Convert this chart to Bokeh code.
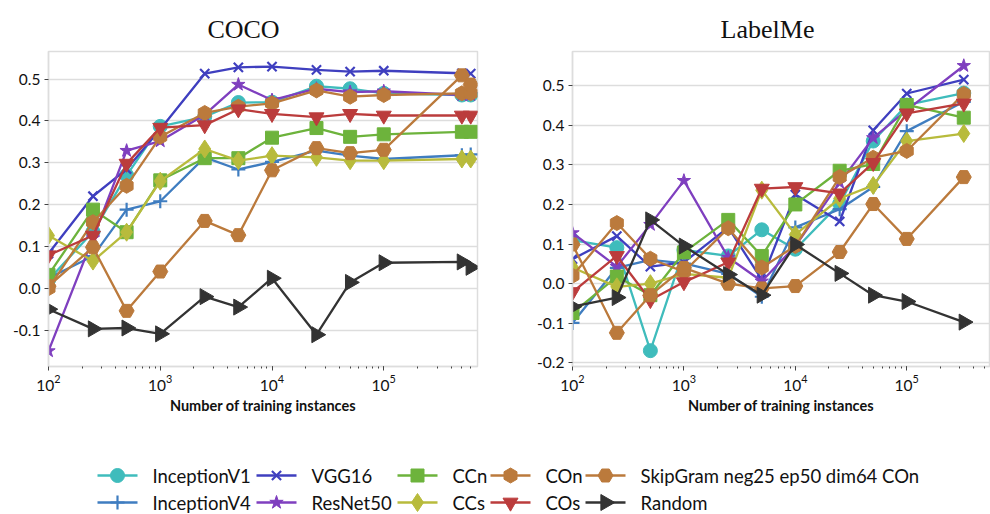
import math
from bokeh.plotting import figure
from bokeh.layouts import column, row
from bokeh.models import (Range1d, FixedTicker, PrintfTickFormatter, ColumnDataSource)
from bokeh.core.properties import value
from bokeh.embed import file_html
from bokeh.resources import INLINE

# ---------------- data ----------------
titles = ["COCO", "LabelMe"]
series_names = ["InceptionV1", "InceptionV4", "VGG16", "ResNet50", "CCn", "CCs",
                "COn", "COs", "SkipGram neg25 ep50 dim64 COn", "Random"]

coco_x = [100, 250, 500, 1000, 2500, 5000, 10000, 25000, 50000, 100000, 500000, 600000]
coco_inceptionv1 = [0.02, 0.135, 0.27, 0.387, 0.41, 0.444, 0.445, 0.483, 0.477, 0.466, 0.462, 0.462]
coco_inceptionv4 = [0.024, 0.077, 0.188, 0.208, 0.313, 0.284, 0.302, 0.329, 0.317, 0.309, 0.318, 0.32]
coco_vgg16 = [0.083, 0.22, 0.285, 0.38, 0.513, 0.528, 0.530, 0.522, 0.518, 0.520, 0.514, 0.513]
coco_resnet50 = [-0.15, 0.12, 0.329, 0.352, 0.415, 0.487, 0.45, 0.477, 0.469, 0.471, 0.462, 0.462]
coco_ccn = [0.032, 0.188, 0.134, 0.258, 0.311, 0.311, 0.36, 0.383, 0.362, 0.368, 0.374, 0.374]
coco_ccs = [0.126, 0.065, 0.134, 0.256, 0.333, 0.305, 0.317, 0.313, 0.305, 0.305, 0.309, 0.309]
coco_con = [0.0, 0.158, 0.245, 0.362, 0.419, 0.434, 0.442, 0.473, 0.458, 0.462, 0.466, 0.466]
coco_cos = [0.079, 0.126, 0.298, 0.384, 0.39, 0.428, 0.417, 0.409, 0.417, 0.413, 0.413, 0.413]
coco_skipgram = [0.005, 0.098, -0.054, 0.04, 0.161, 0.127, 0.282, 0.335, 0.323, 0.331, 0.509, 0.487]
coco_random = [-0.05, -0.097, -0.095, -0.109, -0.02, -0.045, 0.024, -0.111, 0.014, 0.061, 0.063, 0.05]

labelme_x = [100, 250, 500, 1000, 2500, 5000, 10000, 25000, 50000, 100000, 325000]
labelme_inceptionv1 = [0.11, 0.091, -0.169, 0.085, 0.07, 0.136, 0.087, 0.202, 0.36, 0.451, 0.481]
labelme_inceptionv4 = [-0.099, 0.04, 0.06, 0.051, 0.025, -0.033, 0.142, 0.188, 0.244, 0.385, 0.459]
labelme_vgg16 = [0.062, 0.12, 0.043, 0.054, 0.142, 0.01, 0.225, 0.157, 0.387, 0.48, 0.515]
labelme_resnet50 = [0.128, 0.043, 0.149, 0.26, 0.066, 0.006, 0.095, 0.255, 0.368, 0.438, 0.55]
labelme_ccn = [-0.074, 0.018, -0.029, 0.079, 0.161, 0.07, 0.2, 0.285, 0.302, 0.451, 0.419]
labelme_ccs = [0.041, -0.008, 0.0, 0.025, 0.015, 0.236, 0.124, 0.215, 0.248, 0.36, 0.379]
labelme_con = [0.02, 0.153, 0.063, 0.03, 0.14, 0.041, 0.095, 0.269, 0.318, 0.335, 0.479]
labelme_cos = [-0.021, 0.07, -0.041, 0.004, 0.054, 0.24, 0.244, 0.228, 0.305, 0.43, 0.455]
labelme_skipgram = [0.099, -0.124, -0.029, 0.04, 0.0, -0.012, -0.006, 0.08, 0.201, 0.113, 0.269]
labelme_random = [-0.058, -0.035, 0.161, 0.095, 0.023, -0.029, 0.099, 0.026, -0.029, -0.045, -0.097]

coco_y_ticks = [-0.1, 0.0, 0.1, 0.2, 0.3, 0.4, 0.5]
labelme_y_ticks = [-0.2, -0.1, 0.0, 0.1, 0.2, 0.3, 0.4, 0.5]

coco_series = [coco_inceptionv1, coco_inceptionv4, coco_vgg16, coco_resnet50, coco_ccn,
               coco_ccs, coco_con, coco_cos, coco_skipgram, coco_random]
labelme_series = [labelme_inceptionv1, labelme_inceptionv4, labelme_vgg16, labelme_resnet50,
                  labelme_ccn, labelme_ccs, labelme_con, labelme_cos, labelme_skipgram,
                  labelme_random]

# ---------------- styles ----------------
colors = ["#3fbcbc", "#3f7dc0", "#3f3fbf", "#7f3fbf", "#6db33c", "#b8bb3c",
          "#bb7a3c", "#bb3c3c", "#bb7a3c", "#333333"]
markers = ["circle", "cross", "x", "star", "square", "diamond", "hex", "inverted_triangle",
           "hex", "triangle"]
msizes = [14, 14, 13, 14, 13, 18, 15, 15, 15, 16]
mangles = [0, 0, 0, 0, 0, 0, math.pi / 2, 0, 0, -math.pi / 2]
mline = [1, 2.2, 2.2, 1, 1, 1, 1, 1, 1, 1]

TICK_FONT = "Lato"
GRID = "#dddddd"
TITLE_H = 49
FIG_H = 367
FRAME_BOTTOM_BORDER = 45


def strip(height):
    s = figure(width=990, height=height, x_range=Range1d(0, 990), y_range=Range1d(height, 0),
               output_backend="svg", toolbar_location=None, min_border=0)
    s.axis.visible = False
    s.grid.visible = False
    s.outline_line_color = None
    return s


# ---------------- title strip ----------------
top = strip(TITLE_H)
top.text(x=[243, 767], y=[29, 29], text=titles, text_font=value("Liberation Serif"),
         text_font_size="26px", text_align="center", text_baseline="alphabetic",
         text_color="#111111")


def make_fig(xs, series, x_end, y_start, y_end, yticks, width, mbl, mbr):
    p = figure(width=width, height=FIG_H, x_axis_type="log",
               x_range=Range1d(100, x_end), y_range=Range1d(y_start, y_end),
               output_backend="svg", toolbar_location=None,
               min_border_left=mbl, min_border_right=mbr, min_border_top=2,
               min_border_bottom=FRAME_BOTTOM_BORDER)
    p.outline_line_color = GRID
    p.outline_line_width = 1.5
    p.xgrid.visible = False
    p.ygrid.grid_line_color = GRID
    p.ygrid.grid_line_width = 1.5
    p.yaxis.ticker = FixedTicker(ticks=yticks, minor_ticks=[])
    p.yaxis.formatter = PrintfTickFormatter(format="%.1f")
    for ax in (p.xaxis[0], p.yaxis[0]):
        ax.axis_line_color = GRID
        ax.axis_line_width = 1.5
        ax.major_tick_line_color = "#444444"
        ax.minor_tick_line_color = "#444444"
        ax.major_tick_in = 0
        ax.major_tick_out = 4
        ax.minor_tick_in = 0
        ax.minor_tick_out = 2
        ax.major_label_text_font = TICK_FONT
        ax.major_label_text_font_size = "15.5px"
        ax.major_label_text_color = "#111111"
        ax.major_label_standoff = 4
    p.xaxis.axis_label = "Number of training instances"
    p.xaxis.axis_label_text_font = TICK_FONT
    p.xaxis.axis_label_text_font_size = "14.5px"
    p.xaxis.axis_label_text_font_style = "bold"
    p.xaxis.axis_label_text_color = "#111111"
    p.xaxis.axis_label_standoff = 3
    for i, ys in enumerate(series):
        src = ColumnDataSource(dict(x=xs, y=ys))
        p.line("x", "y", source=src, line_color=colors[i], line_width=2.3)
        p.scatter("x", "y", source=src, marker=markers[i], size=msizes[i], angle=mangles[i],
                  fill_color=colors[i], line_color=colors[i], line_width=mline[i])
    return p


p1 = make_fig(coco_x, coco_series, 690000, -0.187, 0.566, coco_y_ticks, 490, 48, 13)
p2 = make_fig(labelme_x, labelme_series, 553000, -0.209, 0.586, labelme_y_ticks, 500, 82, 1)

# ---------------- legend strip ----------------
LEG_H = 98
leg = strip(LEG_H)
col_x = [97, 256, 397, 490, 585]     # left end of each legend column's sample line
row_y = [59, 86]                     # row centres within the strip
line_len = 40
text_gap = 55
lx0, lx1, ly, mx, tx = [], [], [], [], []
for i in range(len(series_names)):
    c, r = i // 2, i % 2
    lx0.append(col_x[c])
    lx1.append(col_x[c] + line_len)
    ly.append(row_y[r])
    mx.append(col_x[c] + line_len / 2)
    tx.append(col_x[c] + text_gap)
leg.segment(x0=lx0, y0=ly, x1=lx1, y1=ly, line_color=colors, line_width=2.3)
leg.scatter(x=mx, y=ly, marker=markers, size=msizes, angle=mangles,
            fill_color=colors, line_color=colors, line_width=mline)
leg.text(x=tx, y=ly, text=series_names, text_font=value("Lato"), text_font_size="18.5px",
         text_baseline="middle", text_align="left", text_color="#111111")

layout = column(top, row(p1, p2), leg)
open("out.html", "w").write(file_html(layout, INLINE))
